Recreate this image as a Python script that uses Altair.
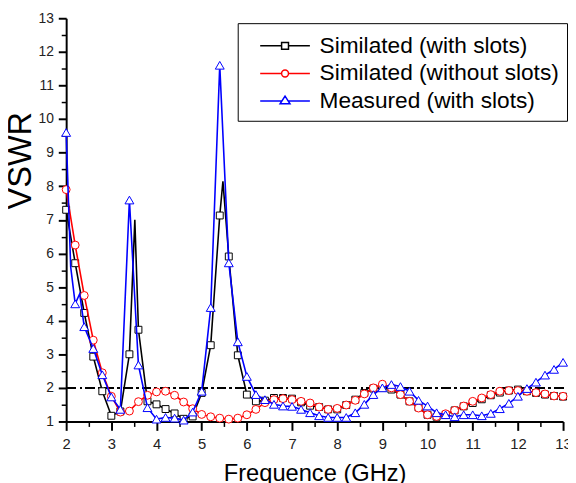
import altair as alt
import pandas as pd

SERIES = ["Similated (with slots)", "Similated (without slots)", "Measured (with slots)"]
COLORS = ["#000000", "#ff0000", "#0000ff"]
SHAPES = ["square", "circle", "triangle-up"]
MARKER_SIZES = [49, 64, 81]

FREQ = [2.0, 2.2, 2.4, 2.6, 2.8, 3.0, 3.2, 3.4, 3.6, 3.8, 4.0, 4.2, 4.4, 4.6, 4.8,
        5.0, 5.2, 5.4, 5.6, 5.8, 6.0, 6.2, 6.4, 6.6, 6.8, 7.0, 7.2, 7.4, 7.6, 7.8,
        8.0, 8.2, 8.4, 8.6, 8.8, 9.0, 9.2, 9.4, 9.6, 9.8, 10.0, 10.2, 10.4, 10.6, 10.8,
        11.0, 11.2, 11.4, 11.6, 11.8, 12.0, 12.2, 12.4, 12.6, 12.8, 13.0]

SIM_SLOTS = [7.3, 5.71, 4.23, 2.93, 1.9, 1.17, 1.3, 3.0, 3.73, 1.6, 1.51, 1.37, 1.24, 1.08, 1.15,
             1.85, 3.27, 7.13, 5.91, 2.97, 1.8, 1.6, 1.62, 1.7, 1.7, 1.68, 1.57, 1.47, 1.43, 1.36,
             1.36, 1.49, 1.65, 1.85, 1.98, 2.0, 1.95, 1.8, 1.6, 1.42, 1.2, 1.14, 1.2, 1.33, 1.45,
             1.55, 1.66, 1.78, 1.86, 1.92, 1.95, 1.9, 1.85, 1.8, 1.76, 1.74]
SIM_SLOTS_PEAK_F = [3.52, 5.47]
SIM_SLOTS_PEAK_V = [7.0, 8.15]

SIM_NOSLOTS = [7.9, 6.25, 4.75, 3.42, 2.45, 1.75, 1.28, 1.31, 1.59, 1.78, 1.88, 1.9, 1.78, 1.58, 1.38,
               1.21, 1.14, 1.1, 1.07, 1.1, 1.2, 1.36, 1.56, 1.65, 1.68, 1.65, 1.6, 1.55, 1.43, 1.36,
               1.39, 1.49, 1.63, 1.82, 2.0, 2.11, 2.0, 1.8, 1.6, 1.4, 1.2, 1.15, 1.23, 1.33, 1.46,
               1.6, 1.7, 1.8, 1.9, 1.92, 1.92, 1.9, 1.86, 1.82, 1.76, 1.75]

MEASURED = [9.6, 4.5, 3.82, 3.17, 2.39, 1.73, 1.36, 7.59, 2.68, 1.41, 1.07, 1.12, 1.1, 1.04, 1.28,
            1.9, 4.39, 11.6, 5.72, 3.37, 2.34, 1.8, 1.65, 1.51, 1.46, 1.45, 1.36, 1.26, 1.17, 1.12,
            1.12, 1.12, 1.26, 1.51, 1.8, 2.0, 2.1, 2.04, 1.9, 1.63, 1.46, 1.26, 1.2, 1.14, 1.2,
            1.2, 1.17, 1.24, 1.38, 1.54, 1.75, 1.98, 2.17, 2.38, 2.55, 2.76]
MEASURED_EXTRA_F = [2.1, 2.3]
MEASURED_EXTRA_V = [5.6, 4.8]

THRESHOLD = 2
X_TICKS = [2, 2.5, 3, 3.5, 4, 4.5, 5, 5.5, 6, 6.5, 7, 7.5, 8, 8.5, 9, 9.5, 10, 10.5,
           11, 11.5, 12, 12.5, 13]
Y_TICKS = [1, 1.5, 2, 2.5, 3, 3.5, 4, 4.5, 5, 5.5, 6, 6.5, 7, 7.5, 8, 8.5, 9, 9.5,
           10, 10.5, 11, 11.5, 12, 12.5, 13]

rows = []
for name, vals, ef, ev in [
    (SERIES[0], SIM_SLOTS, SIM_SLOTS_PEAK_F, SIM_SLOTS_PEAK_V),
    (SERIES[1], SIM_NOSLOTS, [], []),
    (SERIES[2], MEASURED, MEASURED_EXTRA_F, MEASURED_EXTRA_V),
]:
    for f, v in zip(FREQ, vals):
        rows.append({"freq": f, "vswr": v, "series": name, "marker": True})
    for f, v in zip(ef, ev):
        rows.append({"freq": f, "vswr": v, "series": name, "marker": False})
df = pd.DataFrame(rows)

FONT = "Liberation Sans"
MINOR_TEST = "datum.value % 1 != 0"
LABEL_EXPR = "datum.value % 1 ? '' : format(datum.value, 'd')"

x_axis = alt.Axis(values=X_TICKS, title="Frequence (GHz)", titleFont=FONT, titleFontSize=24,
                  titleFontWeight="normal", titleColor="#000", titlePadding=11,
                  labelFont=FONT, labelFontSize=15, labelColor="#222", labelPadding=6,
                  labelExpr=LABEL_EXPR,
                  tickSize={"condition": {"test": MINOR_TEST, "value": 5}, "value": 9},
                  tickWidth={"condition": {"test": MINOR_TEST, "value": 1.5}, "value": 2},
                  tickColor="#000", domainWidth=2, domainColor="#000",
                  grid=False, labelFlush=False)
y_axis = alt.Axis(values=Y_TICKS, title="VSWR", titleFont=FONT, titleFontSize=33,
                  titleFontWeight="normal", titleColor="#000", titleX=-46, titleY=144,
                  titleAngle=270, titleBaseline="middle", titleAlign="center",
                  labelFont=FONT, labelFontSize=14, labelColor="#222", labelPadding=5,
                  labelExpr=LABEL_EXPR,
                  tickSize={"condition": {"test": MINOR_TEST, "value": 5}, "value": 8},
                  tickWidth={"condition": {"test": MINOR_TEST, "value": 1.5}, "value": 2},
                  tickColor="#000", domainWidth=2, domainColor="#000", grid=False)

xs = alt.Scale(domain=[2, 13], nice=False, zero=False)
ys = alt.Scale(domain=[1, 13], nice=False, zero=False)
X = alt.X("freq:Q", scale=xs, axis=x_axis)
Y = alt.Y("vswr:Q", scale=ys, axis=y_axis)

base = alt.Chart(df)

ref = base.mark_rule(color="#000", strokeWidth=1.5, strokeDash=[9, 4, 2, 4]).encode(
    y=alt.Y(datum=THRESHOLD, type="quantitative", scale=ys, axis=y_axis)
)

layers = [ref]
for name, col, shp, sz in zip(SERIES, COLORS, SHAPES, MARKER_SIZES):
    sub = base.transform_filter(alt.datum.series == name)
    layers.append(sub.mark_line(color=col, strokeWidth=1.6).encode(x=X, y=Y, order="freq:Q"))
    layers.append(sub.transform_filter(alt.datum.marker).mark_point(
        shape=shp, size=sz, filled=True, fill="white", stroke=col, strokeWidth=1, opacity=1
    ).encode(x=X, y=Y))

LEG_PATHS = [
    "M-1.8,0H-0.25M0.25,0H1.8M-0.25,-0.25H0.25V0.25H-0.25Z",
    "M-1.8,0H-0.25M0.25,0H1.8M-0.25,0A0.25,0.25,0,1,0,0.25,0A0.25,0.25,0,1,0,-0.25,0Z",
    "M-1.8,0H-0.23M0.23,0H1.8M0,-0.36L0.36,0.2L-0.36,0.2Z",
]
leg = alt.Legend(title=None, orient="none", legendX=174, legendY=5, strokeColor="#000",
                 fillColor="white", padding=8, cornerRadius=0, labelFont=FONT, labelFontSize=23,
                 labelColor="#000", labelLimit=0, symbolSize=784, symbolStrokeWidth=1.5,
                 symbolFillColor="white", symbolOpacity=1, symbolOffset=25, labelOffset=20,
                 rowPadding=1)
legend_layer = base.transform_filter(alt.datum.marker).mark_point(opacity=0).encode(
    x=X, y=Y,
    shape=alt.Shape("series:N", scale=alt.Scale(domain=SERIES, range=LEG_PATHS), legend=leg),
    stroke=alt.Stroke("series:N", scale=alt.Scale(domain=SERIES, range=COLORS), legend=leg),
)
layers.append(legend_layer)

chart = alt.layer(*layers).properties(
    width=504, height=409,
    autosize=alt.AutoSizeParams(type="none"),
    padding={"left": 59, "top": 7, "right": 5, "bottom": 59},
).configure_view(stroke=None)

chart.save("out.html", embed_options={"renderer": "svg", "actions": False})
